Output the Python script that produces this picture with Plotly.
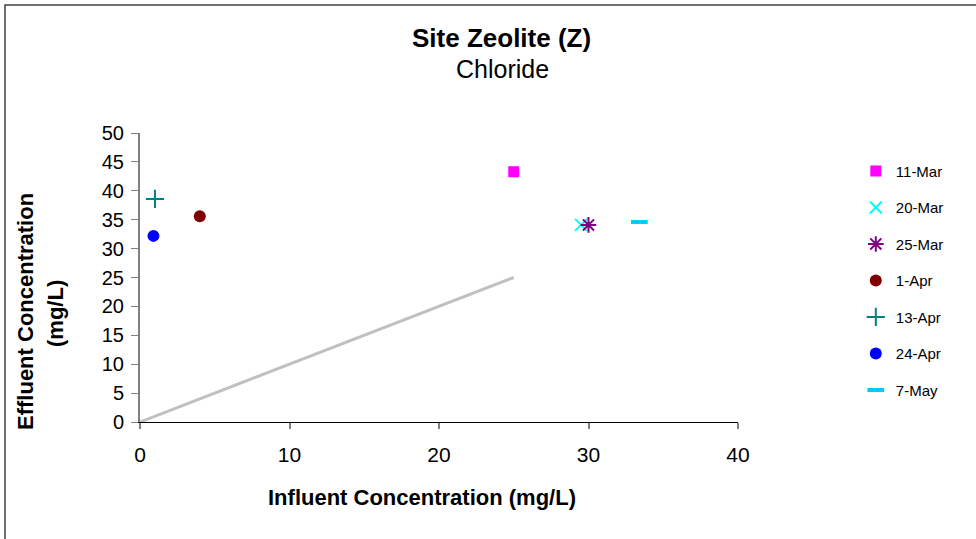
import plotly.graph_objects as go

dates = ["11-Mar", "20-Mar", "25-Mar", "1-Apr", "13-Apr", "24-Apr", "7-May"]
influent = [25.0, 29.5, 30.0, 4.0, 1.0, 0.9, 33.4]
effluent = [43.3, 34.1, 34.1, 35.6, 38.6, 32.2, 34.6]
colors = ["#FF00FF", "#00FFFF", "#800080", "#800000", "#008080", "#0000FF", "#00CCFF"]
symbols = ["square", "x-thin", "asterisk", "circle", "cross-thin", "circle", "line-ew"]
sizes = [11, 12, 13, 12, 13, 12, 12]

ref_x = [0, 25]
ref_y = [0, 25]

L, T, PW, PH = 140, 133, 598, 289  # plot area in page pixels


def px(xp):
    return (xp - L) / PW


def py(yp):
    return (T + PH - yp) / PH


fig = go.Figure()
fig.add_trace(go.Scatter(x=ref_x, y=ref_y, mode="lines",
                         line=dict(color="#C0C0C0", width=3), showlegend=False,
                         hoverinfo="skip"))
for d, xv, yv, c, s, sz in zip(dates, influent, effluent, colors, symbols, sizes):
    open_sym = s in ("x-thin", "asterisk", "cross-thin", "line-ew")
    fig.add_trace(go.Scatter(
        x=[xv], y=[yv], mode="markers", name=d,
        marker=dict(symbol=s, size=sz, color=c,
                    line=dict(color=c, width=4 if s == "line-ew" else 2 if open_sym else 0)),
        legendgroup=d))

fig.update_layout(
    width=976, height=539,
    paper_bgcolor="white", plot_bgcolor="white",
    margin=dict(l=L, r=976 - L - PW, t=T, b=539 - T - PH),
    font=dict(family="Liberation Sans, Arial, sans-serif", color="black"),
    showlegend=True,
    legend=dict(x=1.197, y=0.925, xanchor="left", yanchor="top",
                font=dict(size=15), tracegroupgap=14,
                bgcolor="rgba(0,0,0,0)", itemwidth=30),
    xaxis=dict(range=[0, 40], dtick=10, showgrid=False, zeroline=False,
               showline=True, linecolor="black", linewidth=1,
               ticks="outside", tickcolor="#808080", ticklen=6, tickwidth=2,
               ticklabelstandoff=8,
               tickfont=dict(size=21)),
    yaxis=dict(range=[0, 50], dtick=5, showgrid=False, zeroline=False,
               showline=True, linecolor="#808080", linewidth=2,
               ticks="outside", tickcolor="#808080", ticklen=7,
               ticklabelstandoff=3,
               tickfont=dict(size=20)),
    shapes=[dict(type="rect", xref="paper", yref="paper",
                 x0=px(5), x1=px(985), y0=py(545), y1=py(5),
                 line=dict(color="#404040", width=1.5), fillcolor="rgba(0,0,0,0)",
                 layer="below")],
    annotations=[
        dict(text="<b>Site Zeolite (Z)</b>", xref="paper", yref="paper",
             x=px(501), y=py(38), showarrow=False,
             font=dict(size=26), xanchor="center", yanchor="middle"),
        dict(text="Chloride", xref="paper", yref="paper",
             x=px(502), y=py(69), showarrow=False,
             font=dict(size=25), xanchor="center", yanchor="middle"),
        dict(text="<b>Influent Concentration (mg/L)</b>", xref="paper", yref="paper",
             x=px(422), y=py(497), showarrow=False,
             font=dict(size=22), xanchor="center", yanchor="middle"),
        dict(text="<b>Effluent Concentration</b>", xref="paper", yref="paper",
             x=px(25), y=py(312), showarrow=False,
             textangle=-90, font=dict(size=22), xanchor="center", yanchor="middle"),
        dict(text="<b>(mg/L)</b>", xref="paper", yref="paper",
             x=px(55), y=py(314), showarrow=False,
             textangle=-90, font=dict(size=22), xanchor="center", yanchor="middle"),
    ],
)

fig.write_html("out.html", config={"displayModeBar": False},
               post_script="document.body.style.margin='0px';")
